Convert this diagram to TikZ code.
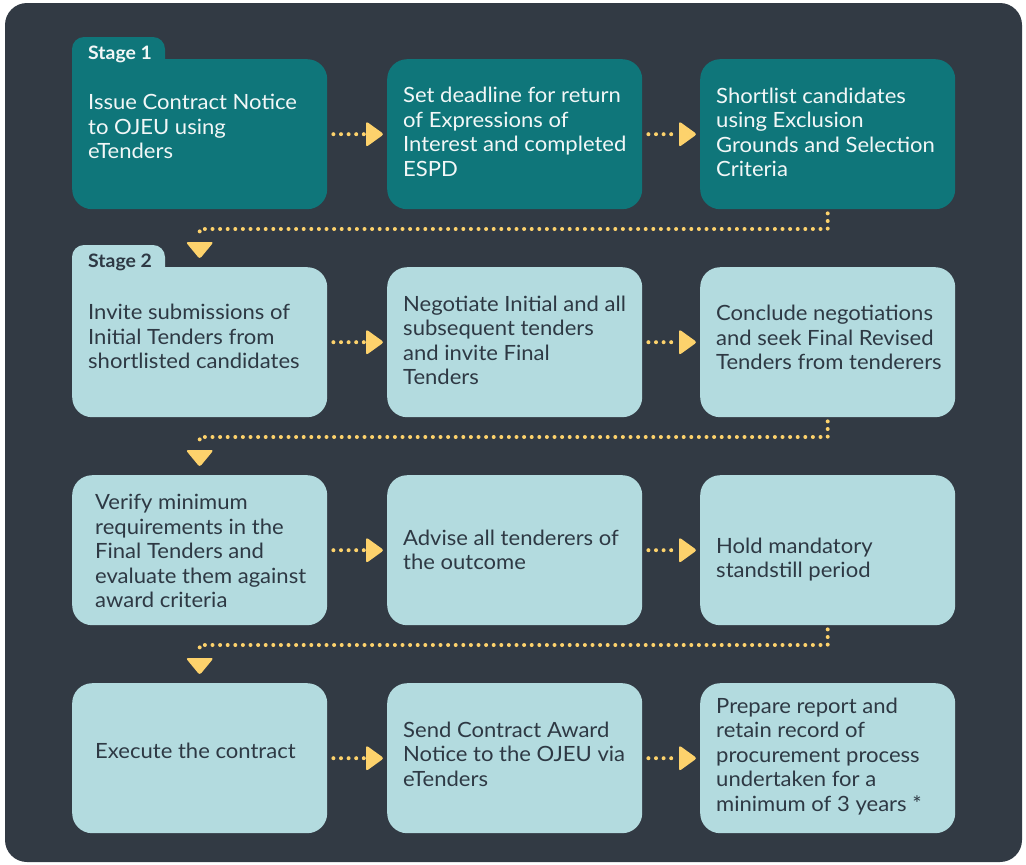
\documentclass[tikz,border=0pt]{standalone}
\usepackage{fontspec}
\setmainfont{Lato}[FakeStretch=1.05]
\usetikzlibrary{calc}
\definecolor{bgdark}{HTML}{323A44}
\definecolor{stageteal}{HTML}{0F767A}
\definecolor{lightbox}{HTML}{B3DBDF}
\definecolor{arrowyellow}{HTML}{FDD26C}
\definecolor{darktext}{HTML}{2E3944}
\definecolor{lighttext}{HTML}{F2F7F7}
\tikzset{
  box/.style={rounded corners=20pt, minimum width=255pt, minimum height=150pt, anchor=north west, inner sep=0pt, draw=none},
  tealbox/.style={box, fill=stageteal},
  lbox/.style={box, fill=lightbox},
  txt/.style={anchor=north west, inner sep=0pt, align=left, font=\fontsize{21}{24.6}\selectfont},
  wtxt/.style={txt, text=lighttext},
  dtxt/.style={txt, text=darktext},
  tabtxt/.style={anchor=north west, inner sep=0pt, font=\bfseries\fontsize{18.5}{20}\selectfont},
  dots/.style={draw=arrowyellow, line width=4pt, line cap=round, dash pattern=on 0pt off 7.6pt},
  head/.style={fill=arrowyellow, rounded corners=2.5pt}
}
\newcommand{\harrow}[2]{%
  \draw[dots] ($(#1.east)+(6,0)$) -- ($(#2.west)+(-23,0)$);
  \fill[head] ($(#2.west)+(-21,-13)$) -- ($(#2.west)+(-3,0)$) -- ($(#2.west)+(-21,13)$) -- cycle;}
\newcommand{\varrow}[2]{%
  \draw[dots] ($(#1.south)+(0,4)$) |- ($(#2.north)+(0,-38)$) -- ($(#2.north)+(0,-30)$);
  \fill[head] ($(#2.north)+(-14,-25)$) -- ($(#2.north)+(14,-25)$) -- ($(#2.north)+(0,-8)$) -- cycle;}
\begin{document}
\begin{tikzpicture}[x=1pt,y=-1pt]
\useasboundingbox (0,0) rectangle (1026,865);
\fill[white] (0,0) rectangle (1026,865);
\fill[bgdark, rounded corners=22pt] (5,3) rectangle (1022,862);

% tabs
\fill[stageteal, rounded corners=12pt] (72,37) rectangle (165,100);
\fill[lightbox, rounded corners=12pt] (72,245) rectangle (165,310);

% boxes
\node[tealbox] (r1c1) at (72,59) {};
\node[tealbox] (r1c2) at (387,59) {};
\node[tealbox] (r1c3) at (700,59) {};
\node[lbox] (r2c1) at (72,267) {};
\node[lbox] (r2c2) at (387,267) {};
\node[lbox] (r2c3) at (700,267) {};
\node[lbox] (r3c1) at (72,475) {};
\node[lbox] (r3c2) at (387,475) {};
\node[lbox] (r3c3) at (700,475) {};
\node[lbox] (r4c1) at (72,683) {};
\node[lbox] (r4c2) at (387,683) {};
\node[lbox] (r4c3) at (700,683) {};

% tab labels
\node[tabtxt, text=lighttext] (stage1) at (88,46) {Stage 1};
\node[tabtxt, text=darktext] (stage2) at (88,254) {Stage 2};

% texts
\node[wtxt] (t11) at (88,94) {Issue Contract Notice\\to OJEU using\\eTenders};
\node[wtxt] (t12) at (403,87) {Set deadline for return\\of Expressions of\\Interest and completed\\ESPD};
\node[wtxt] (t13) at (716,87.5) {Shortlist candidates\\using Exclusion\\Grounds and Selection\\Criteria};
\node[dtxt] (t21) at (88,304) {Invite submissions of\\Initial Tenders from\\shortlisted candidates};
\node[dtxt] (t22) at (403,295.5) {Negotiate Initial and all\\subsequent tenders\\and invite Final\\Tenders};
\node[dtxt] (t23) at (716,305) {Conclude negotiations\\and seek Final Revised\\Tenders from tenderers};
\node[dtxt] (t31) at (95,494) {Verify minimum\\requirements in the\\Final Tenders and\\evaluate them against\\award criteria};
\node[dtxt] (t32) at (403,529.5) {Advise all tenderers of\\the outcome};
\node[dtxt] (t33) at (716,537.5) {Hold mandatory\\standstill period};
\node[dtxt] (t41) at (95,743) {Execute the contract};
\node[dtxt] (t42) at (403,721.5) {Send Contract Award\\Notice to the OJEU via\\eTenders};
\node[dtxt] (t43) at (716,697.5) {Prepare report and\\retain record of\\procurement process\\undertaken for a\\minimum of 3 years *};

% connectors
\harrow{r1c1}{r1c2}
\harrow{r1c2}{r1c3}
\harrow{r2c1}{r2c2}
\harrow{r2c2}{r2c3}
\harrow{r3c1}{r3c2}
\harrow{r3c2}{r3c3}
\harrow{r4c1}{r4c2}
\harrow{r4c2}{r4c3}
\varrow{r1c3}{r2c1}
\varrow{r2c3}{r3c1}
\varrow{r3c3}{r4c1}
\end{tikzpicture}
\end{document}
